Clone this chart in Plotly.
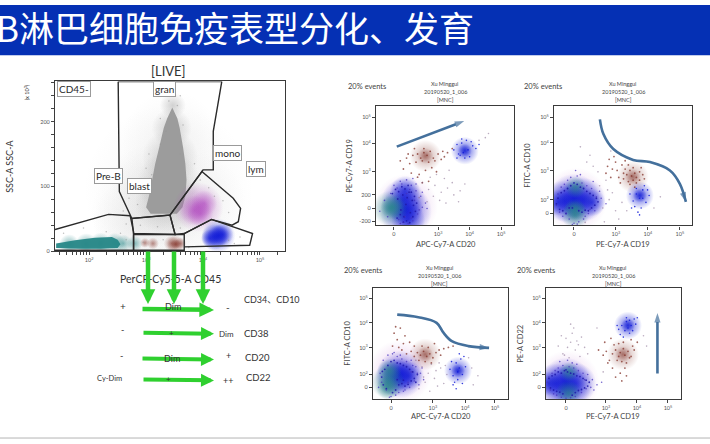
import plotly.graph_objects as go

W, H = 710, 444
CJK = "Noto Sans CJK SC"
SANS = "Lato, Noto Sans CJK SC"
TEXT = "#333333"
BLUE_BAR = "#0530b4"
GREEN = "#2fd02f"
ARROW = "#44709c"

title_text = "B淋巴细胞免疫表型分化、发育"

# ---- main SSC / CD45 panel (x: log10 CD45 fluorescence, y: SSC in 10^3) ----
main_xticks = [100, 1000, 10000, 100000]
main_xlabels = ["10<sup>2</sup>", "10<sup>3</sup>", "10<sup>4</sup>", "10<sup>5</sup>"]
main_xminor = [30, 40, 50, 60, 70, 80, 90, 200, 300, 400, 500, 600, 700, 800, 900,
               2000, 3000, 4000, 5000, 6000, 7000, 8000, 9000,
               20000, 30000, 40000, 50000, 60000, 70000, 80000, 90000, 200000]
main_yticks = [0, 100, 200]

gate_cd45_x = [1.40, 2.34, 2.72, 2.78, 2.78, 1.40]
gate_cd45_y = [33.6, 56.9, 54.9, 30, 1.6, 1.6]
gate_gran_x = [2.51, 2.53, 2.75, 3.42, 3.98, 4.0, 4.18, 4.18, 4.33]
gate_gran_y = [262, 92, 50.7, 55.8, 123, 125.6, 125.6, 185, 262]
gate_top_x = [2.51, 4.33]
gate_top_y = [262, 262]
gate_blast_x = [2.75, 3.42, 3.51, 2.78, 2.75]
gate_blast_y = [50.7, 55.8, 25.9, 27.4, 50.7]
gate_low_x = [2.78, 3.51, 3.67, 3.67, 2.78, 2.78]
gate_low_y = [25.9, 25.9, 25.9, 1.6, 1.6, 25.9]
gate_mono_x = [3.42, 3.98, 4.53, 4.66, 4.62, 4.51, 4.15, 3.67, 3.51, 3.42]
gate_mono_y = [55.8, 123, 81.7, 66.2, 45.6, 40.3, 49.1, 27.4, 25.9, 55.8]
gate_lym_x = [3.67, 4.15, 4.87, 4.82, 3.67]
gate_lym_y = [27.4, 49.1, 27.4, 9.3, 6.8]

gran_core_x = [3.08, 3.00, 3.05, 3.10, 3.16, 3.23, 3.31, 3.37, 3.46, 3.55, 3.59, 3.65, 3.69, 3.71, 3.69, 3.64, 3.54]
gran_core_y = [58, 68, 85, 110, 135, 160, 190, 205, 222, 205, 190, 160, 135, 110, 85, 68, 58]
halo_x = [3.38, 3.40, 3.42, 3.45, 3.47]
halo_y = [75, 105, 145, 190, 225]
halo_s = [66, 64, 56, 40, 26]

haze_x = [3.4, 3.0, 3.8, 3.45, 2.85, 3.0]
haze_y = [95, 60, 70, 170, 45, 110]
haze_s = [170, 110, 110, 100, 90, 70]

teal_x = [1.65, 1.95, 2.2, 2.45, 2.6, 2.8]
teal_y = [11, 11, 12, 13, 12, 12]
teal_s = [20, 22, 22, 20, 18, 16]
teal_core_x = [1.42, 1.42, 1.75, 2.1, 2.4, 2.5, 2.55, 2.5, 2.2, 1.8]
teal_core_y = [5, 12, 17, 21, 22, 18, 11, 5, 4, 4]

purple_x = [3.92, 3.85, 4.02, 3.95]
purple_y = [68, 63, 74, 58]
purple_s = [50, 30, 26, 26]
blue_x = [4.27, 4.20, 4.34, 4.12, 4.27]
blue_y = [24, 22, 26, 20, 24]
blue_s = [34, 26, 22, 18, 22]
brown_x = [3.45, 3.52, 3.60, 2.98, 3.12, 3.52]
brown_y = [12, 11, 12, 13, 12, 11]
brown_s = [16, 18, 12, 10, 12, 10]

speck_x = [1.55, 1.9, 2.3, 2.6, 2.7, 2.9, 3.0, 2.75, 2.85, 2.95, 3.05, 3.1, 2.65, 2.55, 2.65, 2.9,
           3.6, 3.85, 3.95, 4.05, 4.1, 4.2, 4.35, 4.45, 3.25, 3.35, 3.55, 3.6, 3.25, 3.4, 3.65,
           4.0, 4.45, 4.55, 4.65, 2.95, 3.2, 3.3, 3.6, 3.75]
speck_y = [28, 36, 30, 62, 82, 110, 128, 100, 72, 90, 150, 118, 42, 28, 18, 40,
           150, 135, 110, 118, 98, 85, 78, 60, 205, 185, 225, 240, 165, 232, 195,
           42, 17, 12, 22, 14, 38, 18, 36, 6]

# ---- display units for the four small biexponential panels ----
p2_xticks = [0, 1.4, 2.4, 3.4]
p2_yticks = [-0.47, 0, 0.5, 1.35, 2.4, 3.35]
p2_ylabels = ["-200", "0", "200", "10<sup>3</sup>", "10<sup>4</sup>", "10<sup>5</sup>"]
p3_xticks = [0, 1.31, 2.31, 3.31]
p3_yticks = [0, 0.5, 1.54, 2.54, 3.46]
p4_xticks = [0, 1.35, 2.39, 3.35]
p4_yticks = [0, 0.5, 1.54, 2.5, 3.46]
p5_xticks = [0, 1.29, 2.29, 3.29]
p5_yticks = [0, 0.5, 1.54, 2.5, 3.46]
x_labels = ["0", "10<sup>3</sup>", "10<sup>4</sup>", "10<sup>5</sup>"]
y_labels = ["0", "10<sup>2</sup>", "10<sup>3</sup>", "10<sup>4</sup>", "10<sup>5</sup>"]

# panel 2: CD20 / CD19
p2_blue_x = [0.3, 0.38, 0.45, 0.35, 0.38]
p2_blue_y = [0.3, -0.1, -0.4, 0.65, 0.0]
p2_blue_s = [44, 52, 34, 30, 34]
p2_teal_x = [-0.12, -0.05]
p2_teal_y = [0.0, 0.05]
p2_teal_s = [36, 24]
p2_inner_x = [-0.05, 0.05, 0.15, 0.25, 0.35, 0.45, 0.55, 0.65, 0.72, 0.1, 0.2, 0.3, 0.4, 0.5, 0.6, 0.68, 0.12, 0.28, 0.42, 0.58, 0.22, 0.38, 0.52, 0.62, 0.32, 0.48]
p2_inner_y = [0.55, 0.7, 0.62, 0.8, 0.72, 0.85, 0.6, 0.45, 0.2, -0.35, -0.22, -0.5, -0.45, -0.52, -0.3, -0.1, 0.35, 0.5, 0.4, 0.3, -0.05, 0.15, -0.15, 0.12, -0.3, 0.6]
p2_cloud_x = [0.1, 0.25, 0.4, 0.55, 0.7, 0.85, -0.1, -0.3, -0.45, 0.9, 0.75, 0.6, 0.45, 0.3, 0.15, 0.65, 0.8, 1.0, 0.5, 0.35, 0.2, 0.0, -0.2, 0.7, 0.55, 0.9, 1.05, 0.6, 0.4, 0.2]
p2_cloud_y = [0.75, 0.9, 1.05, 0.85, 0.65, 0.45, 0.55, 0.3, -0.1, 0.05, -0.2, -0.45, -0.55, -0.5, -0.4, 0.3, -0.05, 0.2, 0.7, -0.3, 1.0, 0.85, -0.3, 0.9, -0.35, 0.6, 0.0, 1.1, 0.55, -0.55]
p2_brown_x = [0.4, 0.6, 0.75, 0.85, 0.95, 1.05, 1.15, 1.25, 1.4, 1.55, 1.7, 1.85, 0.5, 0.7, 0.9, 1.1, 1.3, 1.5, 0.3, 0.55, 0.8, 1.0, 1.2, 0.65, 0.95, 1.6, 0.75, 1.1, 0.9, 1.35, 0.2, 0.45]
p2_brown_y = [1.85, 1.95, 2.0, 1.85, 2.05, 1.95, 2.1, 1.85, 2.0, 2.1, 2.05, 2.2, 1.65, 1.7, 1.75, 1.7, 1.75, 1.8, 1.45, 1.3, 1.25, 1.4, 1.5, 2.2, 2.2, 1.9, 1.15, 1.0, 0.95, 1.35, 1.75, 2.0]
p2_knot_x = [1.9, 2.0, 2.1, 2.15, 2.2, 2.3, 2.4, 2.5, 2.6, 2.05, 2.25, 2.45, 2.15, 2.35, 2.7, 2.0]
p2_knot_y = [2.15, 2.35, 1.95, 2.4, 2.05, 2.5, 1.9, 2.3, 2.2, 2.0, 1.85, 2.45, 2.55, 2.15, 2.35, 1.85]
p2_stray_x = [0.9, 1.1, 1.3, 1.5, 1.7, 1.9, 2.1, 0.8, 1.05, 1.25, 1.45, 1.65, 1.85, 2.05, 2.7, 2.9, 3.0, 1.35, 1.6, 1.15, 2.25, 1.75]
p2_stray_y = [0.95, 0.7, 0.85, 0.6, 0.75, 0.5, 0.65, 0.4, 0.25, 0.45, 0.3, 0.2, 0.95, 0.25, 2.5, 2.6, 2.75, 1.25, 1.1, 1.15, 0.9, 1.4]

# panel 3: CD19 / CD10
p3_blue_x = [-0.3, 0.0, 0.3, 0.55, -0.5, 0.0]
p3_blue_y = [0.45, 0.5, 0.5, 0.4, 0.4, 0.5]
p3_blue_s = [42, 52, 44, 28, 26, 36]
p3_teal_x = [0.03, 0.05, 0.03]
p3_teal_y = [-0.05, 0.95, 0.15]
p3_teal_s = [28, 22, 22]
p3_inner_x = [-0.5, -0.4, -0.3, -0.2, -0.1, 0.0, 0.1, 0.2, 0.3, 0.4, 0.5, 0.6, -0.45, -0.35, -0.25, -0.15, 0.25, 0.35, 0.45, 0.55, 0.65, -0.05, 0.15, 0.7, 0.75, -0.55]
p3_inner_y = [0.55, 0.75, 0.82, 0.9, 1.0, 1.1, 1.05, 0.95, 0.9, 0.8, 0.72, 0.65, 0.15, 0.1, 0.0, 0.2, 0.05, 0.12, 0.1, 0.2, 0.3, 0.2, 0.1, 0.55, 0.42, 0.35]
p3_cloud_x = [-0.55, -0.5, -0.4, -0.3, -0.2, -0.1, 0.1, 0.25, 0.4, 0.55, 0.7, 0.85, 1.0, -0.45, -0.35, 0.35, 0.5, 0.65, 0.15, 0.0, -0.15, 0.05, 0.2, 0.3, -0.25, -0.05, 0.8, 0.6, 0.45, 0.1]
p3_cloud_y = [0.3, 0.7, 0.95, 1.05, 1.2, 1.3, 1.35, 1.1, 1.0, 0.9, 0.6, 0.55, 0.35, 0.05, -0.1, -0.1, 0.15, 0.1, -0.3, -0.35, -0.2, 1.55, 1.4, -0.2, 0.0, -0.4, 0.8, 1.15, 0.0, -0.38]
p3_brown_x = [1.55, 1.65, 1.7, 1.8, 1.85, 1.9, 1.95, 2.05, 2.15, 1.75, 1.6, 1.95, 2.05, 1.3, 1.2, 1.1, 1.0, 1.4, 1.5, 1.35, 1.25, 1.6, 1.15, 1.45, 1.7, 2.1, 1.85, 2.2, 1.05, 1.55, 1.9, 1.75]
p3_brown_y = [1.25, 1.4, 1.15, 1.35, 1.2, 1.45, 1.3, 1.5, 1.4, 1.55, 1.6, 1.1, 1.2, 1.85, 1.6, 1.95, 1.45, 1.3, 1.75, 1.55, 2.05, 1.9, 1.3, 1.1, 1.75, 1.65, 1.65, 1.25, 1.7, 1.45, 0.95, 1.05]
p3_knot_x = [1.75, 1.85, 1.95, 2.05, 2.15, 2.25, 2.35, 1.9, 2.0, 2.1, 2.2, 1.8, 2.3, 2.05, 1.95, 2.15]
p3_knot_y = [0.7, 0.45, 0.9, 0.55, 0.85, 0.4, 0.65, 0.25, 0.05, 0.2, 1.0, 0.2, 0.85, -0.05, 0.7, 0.55]
p3_stray_x = [0.9, 1.1, 1.3, 0.8, 1.0, 1.2, 1.5, 0.6, 0.4, 0.5, 0.2, 0.75, 1.65, 1.4, 2.5, 2.7, 0.95, 1.15, 0.35, 1.05]
p3_stray_y = [0.2, 0.5, 0.1, 1.0, 1.2, 0.75, 0.4, 1.7, 1.85, 2.1, 2.4, 1.5, 0.1, -0.2, 0.2, 0.6, -0.3, 2.25, -0.32, 0.85]

# panel 4: CD20 / CD10
p4_blue_x = [0.3, 0.1, 0.55, 0.3]
p4_blue_y = [0.5, 0.4, 0.45, 0.5]
p4_blue_s = [48, 38, 30, 34]
p4_teal_x = [-0.1, -0.05, -0.1]
p4_teal_y = [0.2, 0.65, 0.0]
p4_teal_s = [34, 24, 24]
p4_inner_x = [-0.3, -0.2, -0.1, 0.0, 0.1, 0.2, 0.3, 0.4, 0.5, 0.6, 0.7, 0.75, 0.85, -0.25, -0.15, 0.05, 0.15, 0.25, 0.35, 0.45, 0.55, 0.65, 0.8, 0.2, 0.4, -0.28]
p4_inner_y = [0.4, 0.7, 0.85, 1.0, 1.05, 0.95, 0.92, 0.85, 0.8, 0.7, 0.6, 0.35, 0.5, 0.1, -0.05, -0.2, -0.1, 0.1, 0.15, 0.05, 0.12, 0.25, 0.2, 0.3, 0.28, 0.62]
p4_cloud_x = [-0.25, -0.1, 0.05, 0.2, 0.35, 0.5, 0.65, 0.8, 0.95, 1.05, -0.35, -0.3, -0.15, 0.0, 0.15, 0.75, 0.6, 0.45, 0.9, 0.7, 0.3, -0.4, 0.55, 0.85, 1.0, 0.1, 0.4, 0.25, -0.05, 0.65]
p4_cloud_y = [1.05, 1.25, 1.3, 1.2, 1.1, 1.0, 1.05, 0.8, 0.55, 0.3, 0.55, 0.2, -0.1, -0.35, -0.3, 0.25, 0.0, -0.1, 0.1, 0.85, 1.25, 0.0, 0.2, 0.55, 0.75, 1.35, -0.15, -0.2, -0.38, 0.6]
p4_brown_x = [0.5, 0.65, 0.75, 0.85, 0.95, 1.05, 1.15, 1.25, 1.35, 1.45, 1.55, 1.7, 1.85, 2.0, 0.1, 0.2, 0.3, 0.4, 0.05, 0.25, 0.45, 0.6, 0.75, 1.0, 1.2, 1.4, 1.6, 0.9, 1.1, 1.3, 0.35, 0.15]
p4_brown_y = [1.3, 1.4, 1.2, 1.35, 1.25, 1.4, 1.2, 1.3, 1.15, 1.35, 1.45, 1.5, 1.55, 1.6, 2.1, 1.85, 2.3, 1.7, 1.6, 1.55, 2.0, 1.75, 1.6, 1.6, 1.55, 1.7, 1.25, 1.05, 1.0, 0.95, 1.45, 2.35]
p4_knot_x = [1.9, 2.0, 2.1, 2.15, 2.2, 2.3, 2.4, 2.05, 2.15, 2.25, 1.95, 2.35, 2.1, 2.2, 2.0, 2.3]
p4_knot_y = [0.7, 0.45, 0.95, 0.6, 0.75, 0.5, 0.8, 0.2, 0.3, 1.1, 1.0, 1.2, -0.05, 1.3, 0.1, 0.15]
p4_stray_x = [1.0, 1.2, 1.4, 1.6, 1.8, 1.1, 1.3, 1.5, 1.7, 0.9, 2.6, 2.8, 2.5, 1.25, 1.55, 1.75, 0.8, 2.65, 1.05, 1.45]
p4_stray_y = [0.8, 0.55, 0.35, 0.75, 0.5, 0.2, 0.9, 0.05, 0.15, -0.05, 0.75, 0.45, 1.15, -0.15, 0.95, 0.85, 1.05, 0.1, 0.4, 0.65]

# panel 5: CD19 / CD22
p5_blue_x = [-0.35, 0.0, 0.3, -0.55, 0.0]
p5_blue_y = [0.15, 0.15, 0.15, 0.15, 0.15]
p5_blue_s = [40, 52, 42, 24, 38]
p5_teal_x = [0.08, 0.1]
p5_teal_y = [-0.22, 0.6]
p5_teal_s = [26, 20]
p5_inner_x = [-0.55, -0.45, -0.35, -0.25, -0.15, -0.05, 0.05, 0.15, 0.25, 0.35, 0.45, 0.55, 0.65, 0.75, -0.5, -0.4, -0.3, -0.2, 0.3, 0.4, 0.5, 0.6, 0.7, -0.1, 0.2, 0.0]
p5_inner_y = [0.35, 0.45, 0.5, 0.6, 0.55, 0.65, 0.6, 0.55, 0.52, 0.45, 0.42, 0.35, 0.28, 0.2, -0.02, -0.1, -0.15, -0.18, -0.2, -0.12, -0.08, -0.02, 0.05, -0.25, -0.3, 0.68]
p5_cloud_x = [-0.6, -0.55, -0.45, -0.35, -0.25, -0.1, 0.1, 0.25, 0.4, 0.55, 0.7, 0.85, 1.0, -0.5, -0.4, -0.3, 0.3, 0.5, 0.65, 0.8, 0.15, 0.0, -0.15, 0.2, 0.35, 0.9, 0.6, -0.2, 0.05, 1.15]
p5_cloud_y = [0.2, 0.4, 0.55, 0.65, 0.75, 0.85, 0.8, 0.75, 0.65, 0.55, 0.5, 0.3, 0.1, -0.1, -0.25, -0.3, -0.35, -0.2, -0.05, 0.0, -0.4, -0.42, -0.38, 0.95, 0.9, -0.1, 0.3, 1.0, 1.05, 0.2]
p5_brown_x = [1.5, 1.6, 1.7, 1.75, 1.85, 1.9, 2.0, 2.05, 2.15, 1.65, 1.8, 1.95, 1.55, 1.7, 1.85, 2.1, 1.3, 1.2, 1.4, 1.05, 1.35, 1.5, 1.9, 2.2, 2.3, 1.75, 1.95, 1.6, 1.8, 2.1, 1.25, 1.45]
p5_brown_y = [1.3, 1.45, 1.2, 1.35, 1.5, 1.25, 1.4, 1.15, 1.6, 1.05, 1.0, 0.95, 1.65, 1.7, 1.75, 1.85, 1.4, 1.25, 1.05, 1.45, 0.95, 0.75, 0.75, 1.45, 1.75, 0.55, 0.45, 0.4, 0.25, 1.2, 1.75, 1.9]
p5_knot_x = [1.7, 1.8, 1.9, 1.95, 2.0, 2.05, 2.1, 2.2, 2.3, 1.75, 1.85, 2.15, 1.65, 2.25, 1.95, 2.05]
p5_knot_y = [2.25, 2.4, 2.2, 2.55, 2.3, 2.6, 2.4, 2.65, 2.7, 2.05, 1.95, 2.2, 2.4, 2.45, 2.7, 2.1]
p5_stray_x = [-0.1, 0.05, 0.15, 0.3, 0.45, -0.25, 0.6, 0.0, 0.2, 0.35, -0.15, 0.5, 0.1, 0.7, 0.25, -0.05, 0.4, 0.15, 2.5, 2.6, 1.0, 1.2]
p5_stray_y = [1.3, 1.55, 1.75, 1.45, 1.2, 1.6, 1.55, 1.9, 2.1, 1.8, 2.0, 1.95, 1.15, 1.3, 2.3, 1.25, 1.65, 2.45, 2.0, 1.6, 2.3, 0.6]

curve3_x = [0.81, 0.92, 1.23, 1.85, 2.375, 3.0, 3.31, 3.5]
curve3_y = [3.39, 2.86, 2.32, 1.93, 1.85, 1.55, 1.07, 0.42]
curve4_x = [0.2, 0.88, 1.47, 1.69, 1.96, 2.49, 3.16]
curve4_y = [2.82, 2.72, 2.5, 2.12, 1.79, 1.6, 1.53]
line2_x = [0.09, 2.23]
line2_y = [2.27, 3.21]
line5_x = [2.95, 2.95]
line5_y = [0.54, 2.88]

TEAL = (38, 135, 135)
BLUEC = (15, 25, 215)
PURPLE = (175, 70, 190)
BROWN = (130, 50, 40)
GRAY = (140, 140, 140)


def rgba(c, a):
    return f"rgba({c[0]},{c[1]},{c[2]},{a})"


fig = go.Figure()


def dom(l, r, t, b):
    return [l / W, r / W], [1 - b / H, 1 - t / H]


def add_axes(n, box, xr, yr, xt, xl, yt, yl, xtype="linear"):
    xd, yd = dom(*box)
    common = dict(showgrid=False, zeroline=False, showline=True, mirror=True, linecolor="#3a3a3a",
                  ticks="outside", tickcolor="#444444", tickfont=dict(family=SANS, size=5.5, color="#555555"))
    fig.layout[f"xaxis{n}"] = dict(domain=xd, range=xr, tickmode="array", tickvals=xt, ticktext=xl, type=xtype,
                                   anchor=f"y{n}", linewidth=1.2, ticklen=3, tickwidth=1, **common)
    fig.layout[f"yaxis{n}"] = dict(domain=yd, range=yr, tickmode="array", tickvals=yt, ticktext=yl,
                                   anchor=f"x{n}", linewidth=1.2, ticklen=3, tickwidth=1, **common)


def blobs(n, x, y, s, c, a):
    # for a radial gradient plotly paints gradient.color at the centre and marker.color at the rim
    fig.add_trace(go.Scatter(x=x, y=y, xaxis=f"x{n}", yaxis=f"y{n}", mode="markers", hoverinfo="skip",
                             marker=dict(size=s, color=rgba(c, 0), line_width=0,
                                         gradient=dict(type="radial", color=rgba(c, a)))))


def dots(n, x, y, c, a=0.8, size=1.6):
    fig.add_trace(go.Scatter(x=x, y=y, xaxis=f"x{n}", yaxis=f"y{n}", mode="markers", hoverinfo="skip",
                             marker=dict(size=size, color=rgba(c, a), line_width=0)))


def poly(n, x, y, c):
    fig.add_trace(go.Scatter(x=x, y=y, xaxis=f"x{n}", yaxis=f"y{n}", mode="lines", fill="toself",
                             fillcolor=c, line=dict(width=0), hoverinfo="skip"))


def blue_arrow(n, x, y, spline=False):
    fig.add_trace(go.Scatter(x=x, y=y, xaxis=f"x{n}", yaxis=f"y{n}", mode="lines+markers", hoverinfo="skip",
                             line=dict(color=ARROW, width=2.6, shape="spline" if spline else "linear"),
                             marker=dict(symbol="arrow", angleref="previous", color=ARROW, line_width=0,
                                         size=[0] * (len(x) - 1) + [10])))


def lin(vals):
    return [10 ** v for v in vals]


# main panel
add_axes(1, (55, 285, 82, 253), [1.4, 5.44], [0, 262], main_xticks, main_xlabels, main_yticks,
         [str(v) for v in main_yticks], xtype="log")
fig.layout.xaxis1.update(minor=dict(ticks="outside", ticklen=3, tickcolor="#444444", tickvals=main_xminor))
fig.layout.yaxis1.update(minor=dict(ticks="outside", ticklen=3, tickcolor="#444444", dtick=20))
blobs(1, lin(haze_x), haze_y, haze_s, GRAY, 0.13)
blobs(1, lin(teal_x), teal_y, teal_s, TEAL, 0.8)
poly(1, lin(teal_core_x), teal_core_y, rgba(TEAL, 0.95))
blobs(1, lin(halo_x), halo_y, halo_s, GRAY, 0.55)
poly(1, lin(gran_core_x), gran_core_y, "#9c9c9c")
blobs(1, lin(purple_x), purple_y, purple_s, PURPLE, 0.8)
blobs(1, lin(blue_x), blue_y, blue_s, BLUEC, 1)
blobs(1, lin(brown_x), brown_y, brown_s, BROWN, 0.8)
dots(1, lin(speck_x), speck_y, (150, 150, 150), 0.6, 1.5)
for gx, gy in [(gate_cd45_x, gate_cd45_y), (gate_gran_x, gate_gran_y), (gate_top_x, gate_top_y),
               (gate_blast_x, gate_blast_y), (gate_low_x, gate_low_y), (gate_mono_x, gate_mono_y),
               (gate_lym_x, gate_lym_y)]:
    fig.add_trace(go.Scatter(x=lin(gx), y=gy, xaxis="x1", yaxis="y1", mode="lines",
                             hoverinfo="skip", line=dict(color="#2b2b2b", width=1.4)))

# small panels
panels = [
    (2, (376, 514, 107, 227), [-0.57, 3.81], [-0.62, 3.75], p2_xticks, x_labels, p2_yticks, p2_ylabels,
     (p2_blue_x, p2_blue_y, p2_blue_s), (p2_teal_x, p2_teal_y, p2_teal_s), (0.38, 0.1), (1.0, 1.93), (2.25, 2.12),
     p2_inner_x, p2_inner_y, p2_cloud_x, p2_cloud_y, p2_brown_x, p2_brown_y, p2_knot_x, p2_knot_y, p2_stray_x, p2_stray_y),
    (3, (554, 692, 107, 227), [-0.625, 3.69], [-0.43, 3.86], p3_xticks, x_labels, p3_yticks, y_labels,
     (p3_blue_x, p3_blue_y, p3_blue_s), (p3_teal_x, p3_teal_y, p3_teal_s), (0.05, 0.5), (1.84, 1.32), (2.06, 0.65),
     p3_inner_x, p3_inner_y, p3_cloud_x, p3_cloud_y, p3_brown_x, p3_brown_y, p3_knot_x, p3_knot_y, p3_stray_x, p3_stray_y),
    (4, (373, 508, 290, 402), [-0.58, 3.77], [-0.46, 3.85], p4_xticks, x_labels, p4_yticks, y_labels,
     (p4_blue_x, p4_blue_y, p4_blue_s), (p4_teal_x, p4_teal_y, p4_teal_s), (0.3, 0.6), (1.1, 1.28), (2.16, 0.65),
     p4_inner_x, p4_inner_y, p4_cloud_x, p4_cloud_y, p4_brown_x, p4_brown_y, p4_knot_x, p4_knot_y, p4_stray_x, p4_stray_y),
    (5, (546, 681, 290, 402), [-0.645, 3.71], [-0.46, 3.85], p5_xticks, x_labels, p5_yticks, y_labels,
     (p5_blue_x, p5_blue_y, p5_blue_s), (p5_teal_x, p5_teal_y, p5_teal_s), (0.05, 0.2), (1.84, 1.28), (2.0, 2.4),
     p5_inner_x, p5_inner_y, p5_cloud_x, p5_cloud_y, p5_brown_x, p5_brown_y, p5_knot_x, p5_knot_y, p5_stray_x, p5_stray_y),
]
for n, box, xr, yr, xt, xl, yt, yl, bl, te, hc, brc, knc, ix, iy, cx, cy, bx, by, kx, ky, sx, sy in panels:
    add_axes(n, box, xr, yr, xt, xl, yt, yl)
    blobs(n, [hc[0]], [hc[1]], [64], PURPLE, 0.45)
    blobs(n, bl[0], bl[1], bl[2], BLUEC, 1.0)
    blobs(n, te[0], te[1], te[2], TEAL, 1.0)
    blobs(n, [brc[0]], [brc[1]], [32], BROWN, 0.6)
    blobs(n, [brc[0]], [brc[1]], [16], BROWN, 0.7)
    blobs(n, [knc[0]], [knc[1]], [28], BLUEC, 1.0)
    blobs(n, [knc[0]], [knc[1]], [14], BLUEC, 1.0)
    dots(n, ix, iy, (30, 25, 170), 0.85, 1.8)
    dots(n, cx, cy, (70, 50, 190), 0.75)
    dots(n, bx, by, BROWN, 0.75, 1.8)
    dots(n, kx, ky, BLUEC, 0.85)
    dots(n, sx, sy, (120, 90, 130), 0.5)

blue_arrow(2, line2_x, line2_y)
blue_arrow(3, curve3_x, curve3_y, True)
blue_arrow(4, curve4_x, curve4_y, True)
blue_arrow(5, line5_x, line5_y)

anns = []


def label(x, y, text, size=7.5, color=TEXT, angle=0, **kw):
    anns.append(dict(xref="paper", yref="paper", x=x / W, y=1 - y / H, text=text, showarrow=False,
                     xanchor="center", yanchor="middle", textangle=angle,
                     font=dict(family=SANS, size=size, color=color), **kw))


def box_label(x, y, text):
    label(x, y, text, 10, "#2a2a2a", bgcolor="#ffffff", bordercolor="#9a9a9a", borderwidth=1, borderpad=1)


def arrow(x0, y0, x1, y1, width):
    anns.append(dict(xref="paper", yref="paper", axref="pixel", ayref="pixel", x=x1 / W, y=1 - y1 / H,
                     ax=x0 - x1, ay=y0 - y1, text="", showarrow=True, arrowcolor=GREEN,
                     arrowwidth=width, arrowhead=2, arrowsize=0.65, standoff=0))


# main panel labels that the green arrows run over
label(168, 71, "[LIVE]", 13)
box_label(74, 90, "CD45-")
box_label(164, 90, "gran")
box_label(109, 177, "Pre-B")
box_label(139, 187, "blast")
box_label(227, 154, "mono")
box_label(256, 170, "lym")
label(10, 168, "SSC-A SSC-A", 9, angle=-90)
label(26, 93, "(x 10<sup>3</sup>)", 5.5, angle=-90)
label(170, 281, "PerCP-Cy5-5-A CD45", 10.5)

# green arrows
arrow(148, 252, 148, 306, 4.5)
arrow(174, 252, 174, 306, 4.5)
arrow(203, 252, 203, 306, 4.5)
arrow(141, 311, 214, 312, 4.5)
arrow(142, 335, 214, 336, 4)
arrow(141, 361, 214, 362, 4)
arrow(142, 382, 214, 383, 4)

# title
anns.append(dict(xref="paper", yref="paper", x=-6 / W, y=1 - 26.5 / H, text=title_text, showarrow=False,
                 xanchor="left", yanchor="middle", font=dict(family=CJK, size=35, color="#ffffff")))

# marker table
label(123, 308, "+", 10)
label(173, 309, "Dim", 9)
label(228, 309, "-", 10)
label(272, 302, "CD34、CD10", 9)
label(122, 332, "-", 9)
label(171, 335, "+", 8)
label(226, 336, "Dim", 8)
label(256, 336, "CD38", 9.5)
label(121, 358, "-", 9)
label(172, 361, "Dim", 9)
label(228, 358, "+", 9)
label(257, 360, "CD20", 9.5)
label(110, 381, "Cy-Dim", 7.5)
label(168, 382, "+", 8)
label(228, 383, "++", 9)
label(258, 380, "CD22", 9.5)

# small panel captions
captions = [
    (367, 87, 445, 85, 446, 246, 350, 167, "APC-Cy7-A CD20", "PE-Cy7-A CD19"),
    (543, 87, 623, 85, 623, 246, 528, 167, "PE-Cy7-A CD19", "FITC-A CD10"),
    (363, 272, 440, 270, 441, 419, 348, 346, "APC-Cy7-A CD20", "FITC-A CD10"),
    (536, 272, 613, 270, 613, 419, 521, 346, "PE-Cy7-A CD19", "PE-A CD22"),
]
for ex, ey, tx, ty, xx, xy, yx, yy, xt, yt in captions:
    label(ex, ey, "20% events", 7.5, "#444444")
    label(tx, ty, "Xu Minggui", 5.5, "#444444")
    label(tx, ty + 8, "20190520_1_006", 5.5, "#444444")
    label(tx, ty + 15.5, "[MNC]", 5.5, "#444444")
    label(xx, xy, xt, 7.5, "#444444")
    label(yx, yy, yt, 7.5, "#444444", angle=-90)

shapes = [
    dict(type="rect", xref="paper", yref="paper", x0=0, x1=1, y0=1 - 55.5 / H, y1=1 - 5 / H,
         fillcolor=BLUE_BAR, line_width=0, layer="below"),
    dict(type="line", xref="paper", yref="paper", x0=0, x1=1, y0=1 - 441 / H, y1=1 - 441 / H,
         line=dict(color="#b4b4b4", width=1), layer="below"),
]

fig.update_layout(width=W, height=H, margin=dict(l=0, r=0, t=0, b=0), showlegend=False,
                  paper_bgcolor="#ffffff", plot_bgcolor="rgba(0,0,0,0)", annotations=anns, shapes=shapes)
fig.write_html("out.html", config={"displayModeBar": False},
               post_script="document.body.style.margin='0';document.documentElement.style.overflow='hidden';")
